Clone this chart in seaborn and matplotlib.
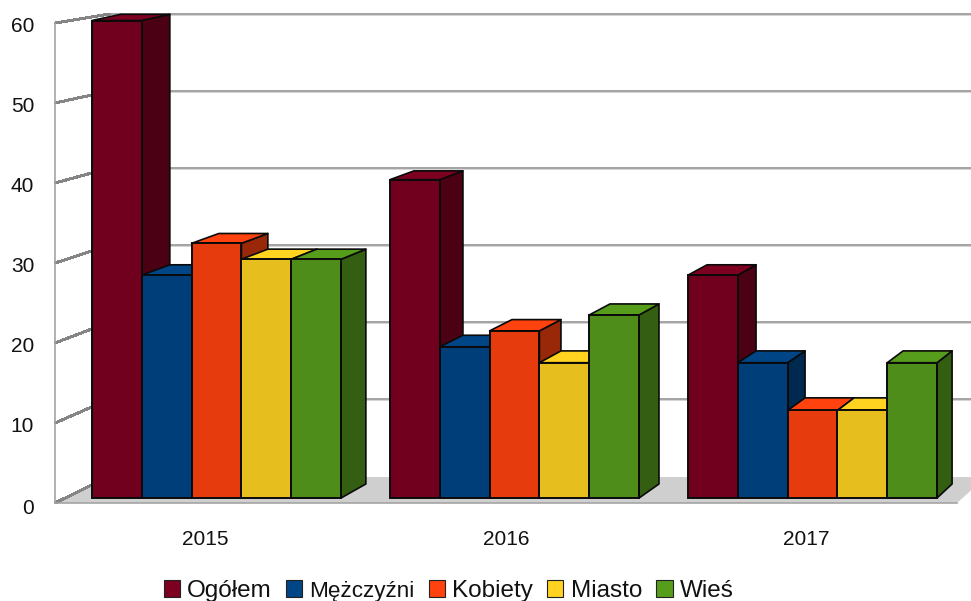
import numpy as np
import pandas as pd
import matplotlib
matplotlib.use("Agg")
import matplotlib.pyplot as plt
from matplotlib.patches import Polygon, Patch
from matplotlib.lines import Line2D
from matplotlib.transforms import Affine2D
from matplotlib.colors import to_rgb
import seaborn as sns

years = ["2015", "2016", "2017"]
series = ["Ogółem", "Mężczyźni", "Kobiety", "Miasto", "Wieś"]
ogolem = [60, 40, 28]
mezczyzni = [28, 19, 17]
kobiety = [32, 21, 11]
miasto = [30, 17, 11]
wies = [30, 23, 17]
base_colors = ["#7e0021", "#004586", "#ff420e", "#ffd320", "#579d1c"]
y_ticks = [0, 10, 20, 30, 40, 50, 60]

sns.set_theme(style="white")
plt.rcParams["font.family"] = ["Liberation Sans", "DejaVu Sans"]

W, H = 971, 601
fig = plt.figure(figsize=(W / 100, H / 100), dpi=100, facecolor="white")
px = Affine2D().scale(1, -1).translate(0, H)   # top-down pixel coordinates -> display


def make_axes(x0, x1, ytop, ybot, z):
    a = fig.add_axes([x0 / W, 1 - ybot / H, (x1 - x0) / W, (ybot - ytop) / H])
    a.set_zorder(z)
    a.patch.set_visible(False)
    a.set_ylim(0, 60)
    return a


def to_px(a, x, y):
    d = a.transData.transform((x, y))
    return np.array([d[0], H - d[1]])


GRID = "#9c9c9c"
# back wall
ax_back = make_axes(110, 990, 14, 476, 1)
ax_back.set_xlim(0, 1)
ax_back.set_xticks([])
ax_back.set_yticks([])
for v in y_ticks[1:]:
    ax_back.axhline(v, color="#d4d4d4", lw=2.1, clip_on=False)
    ax_back.axhline(v, color=GRID, lw=1.2, clip_on=False)
for s in ax_back.spines.values():
    s.set_visible(False)

# front plane: axis, labels, floor, left wall
ax_front = make_axes(55, 957, 23, 503, 2)
ax_front.set_xlim(-0.5, 2.5)
ax_front.set_xticks(range(3))
ax_front.set_xticklabels(years, fontsize=15, color="#111111")
ax_front.set_yticks(y_ticks)
ax_front.set_yticklabels([str(v) for v in y_ticks], fontsize=15, color="#111111")
ax_front.tick_params(axis="y", length=0, pad=15)
ax_front.tick_params(axis="x", length=0, pad=19.5)
for v, lab in zip(y_ticks, ax_front.get_yticklabels()):
    shift = 3 if v == 0 else 1
    lab.set_transform(lab.get_transform() + Affine2D().translate(0, -shift))
for s in ["top", "right"]:
    ax_front.spines[s].set_visible(False)
for s in ["left", "bottom"]:
    ax_front.spines[s].set_color("#a4a4a4")
    ax_front.spines[s].set_linewidth(1.2)

ax_front.add_patch(Polygon([(55, 503), (957, 503), (986, 477), (110, 477)],
                           closed=True, transform=px, facecolor="#cfcfcf",
                           edgecolor="none", zorder=1, clip_on=False))
for v in y_ticks:
    p0 = to_px(ax_front, -0.5, v)
    p1 = to_px(ax_back, 0, v)
    ax_front.add_line(Line2D([p0[0], p1[0]], [p0[1], p1[1]], transform=px,
                             color="#858585", lw=1.4, antialiased=False,
                             clip_on=False, zorder=2))

# bars
frame = pd.DataFrame({
    "year": np.tile(years, len(series)),
    "series": np.repeat(series, len(years)),
    "value": np.concatenate([ogolem, mezczyzni, kobiety, miasto, wies]),
})


def shade(c, f):
    return tuple(v * f for v in to_rgb(c))


front_colors = [shade(c, 0.90) for c in base_colors]
side_colors = [shade(c, 0.60) for c in base_colors]

ax_bar = make_axes(67.5, 961.5, 20.5, 498, 3)
sns.barplot(data=frame, x="year", y="value", hue="series", order=years,
            hue_order=series, palette=front_colors, saturation=1, width=0.836,
            gap=0, legend=False, edgecolor="#0a0a0a", linewidth=1.4, ax=ax_bar)
ax_bar.set_xlim(-0.5, 2.5)
ax_bar.set_ylim(0, 60)
ax_bar.axis("off")

# perspective towards a common vanishing point
VX, VY, K = 1853.0, -357.0, 0.0164


def back(p):
    return (p[0] + K * (VX - p[0]), p[1] + K * (VY - p[1]))


bars = []
for i, cont in enumerate(ax_bar.containers):
    for r in cont:
        bars.append((r.get_x(), i, r))
bars.sort(key=lambda t: t[0])

for n, (_, i, r) in enumerate(bars):
    x0, x1 = r.get_x(), r.get_x() + r.get_width()
    tl = to_px(ax_bar, x0, r.get_height())
    tr = to_px(ax_bar, x1, r.get_height())
    br = to_px(ax_bar, x1, 0)
    edge = dict(edgecolor="#0a0a0a", linewidth=1.2, joinstyle="round",
                transform=px, clip_on=False)
    ax_bar.add_patch(Polygon([br, tr, back(tr), back(br)], facecolor=side_colors[i],
                             zorder=10 + 3 * n, **edge))
    ax_bar.add_patch(Polygon([tl, tr, back(tr), back(tl)], facecolor=base_colors[i],
                             zorder=11 + 3 * n, **edge))
    r.set_zorder(12 + 3 * n)
    r.set_clip_on(False)

# legend
handles = [Patch(facecolor=c, edgecolor="#222222", linewidth=0.8) for c in base_colors]
leg = fig.legend(handles, series, ncols=5, loc="center", frameon=False,
                 bbox_to_anchor=(448.5 / W, 1 - 591 / H), fontsize=17.5,
                 handlelength=0.66, handleheight=0.66, handletextpad=0.29,
                 columnspacing=0.60, borderpad=0)
for t, name in zip(leg.get_texts(), series):
    t.set_color("#111111")
    if name == "Mężczyźni":
        t.set_fontsize(16.2)

fig.savefig("out.png", dpi=100, facecolor="white")
